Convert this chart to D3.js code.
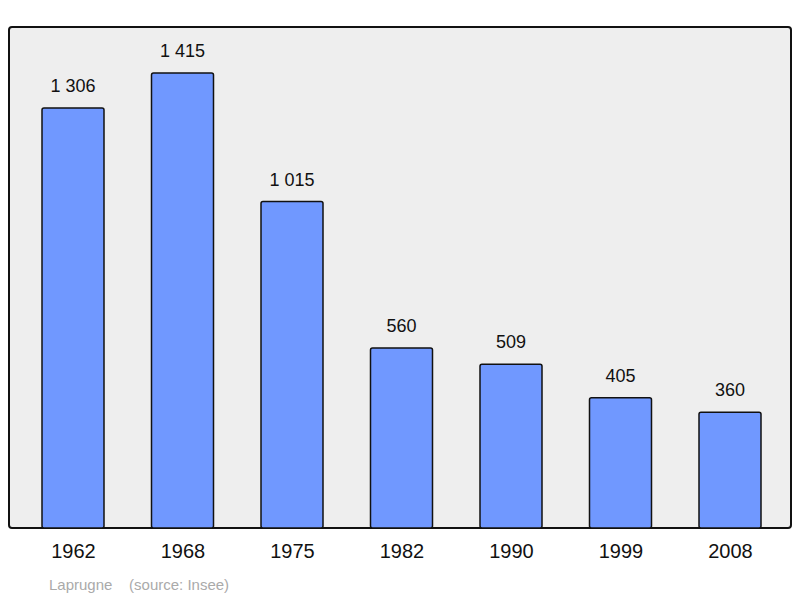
<!DOCTYPE html>
<html><head><meta charset="utf-8">
<script src="https://cdn.jsdelivr.net/npm/d3@7"></script>
<style>body{margin:0;background:#fff}svg{display:block}</style>
</head><body>
<script>
const years = ["1962","1968","1975","1982","1990","1999","2008"];
const population = [1306,1415,1015,560,509,405,360];
const labels = ["1 306","1 415","1 015","560","509","405","360"];

const W=800,H=598;
const svg=d3.select("body").append("svg").attr("width",W).attr("height",H);
svg.append("rect").attr("x",9).attr("y",27).attr("width",782).attr("height",501)
  .attr("rx",3).attr("fill","#eeeeee").attr("stroke","#111").attr("stroke-width",2);

const x=d3.scalePoint().domain(years).range([73,730]);
const y=d3.scaleLinear().domain([0,1558]).range([528,27]);
const bw=62;

svg.selectAll("rect.bar").data(population).join("rect").attr("class","bar")
  .attr("x",(d,i)=>x(years[i])-bw/2).attr("y",d=>y(d))
  .attr("width",bw).attr("height",d=>528-y(d))
  .attr("rx",2).attr("fill","#7098ff").attr("stroke","#111").attr("stroke-width",1.5);

svg.selectAll("text.val").data(population).join("text").attr("class","val")
  .attr("x",(d,i)=>x(years[i])).attr("y",d=>y(d)-16)
  .attr("text-anchor","middle").attr("font-family","Liberation Sans, Arial, sans-serif")
  .attr("font-size",18).attr("fill","#111").text((d,i)=>labels[i]);

const ax=svg.append("g").attr("transform","translate(0,528)")
  .call(d3.axisBottom(x).tickSize(0).tickPadding(16));
ax.select(".domain").remove();
ax.selectAll("text").attr("font-family","Liberation Sans, Arial, sans-serif")
  .attr("font-size",20).attr("fill","#111");

svg.append("text").attr("x",49).attr("y",590).attr("font-family","Liberation Sans, Arial, sans-serif")
  .attr("font-size",15).attr("fill","#aaaaaa").attr("xml:space","preserve")
  .text("Laprugne    (source: Insee)");
</script>
</body></html>
